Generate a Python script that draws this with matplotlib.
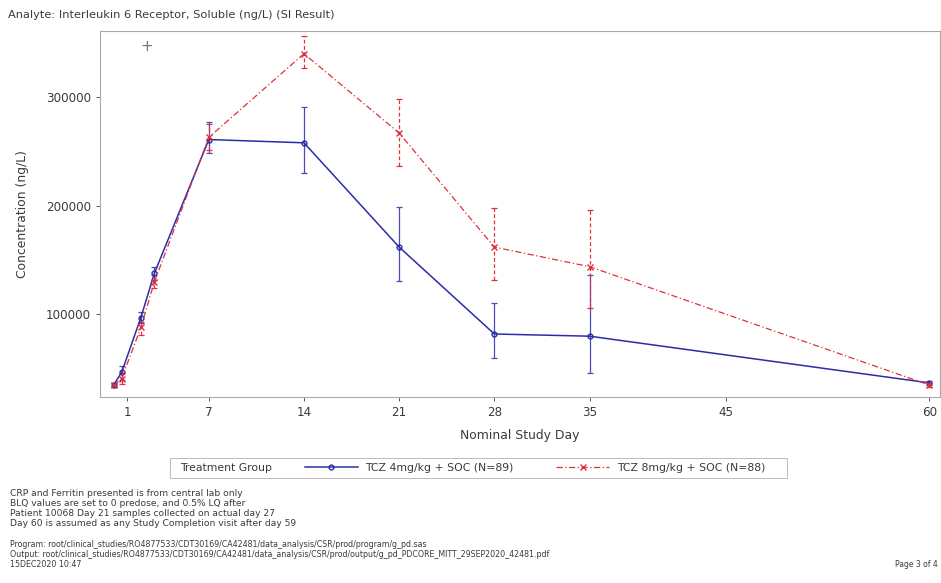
import numpy as np
import matplotlib
matplotlib.use("Agg")
import matplotlib.pyplot as plt
from matplotlib.lines import Line2D
from matplotlib.patches import Rectangle

# ---- data ---------------------------------------------------------
days = [0, 0.6, 2, 3, 7, 14, 21, 28, 35, 60]

tcz4_mean = [35000, 47000, 97000, 138000, 261000, 258000, 162000, 82000, 80000, 37000]
tcz4_low = [33000, 40000, 92000, 132000, 249000, 230000, 131000, 60000, 46000, 35000]
tcz4_high = [37000, 53000, 102000, 144000, 277000, 291000, 199000, 111000, 136000, 39000]

tcz8_mean = [35000, 41000, 88000, 130000, 263000, 340000, 267000, 162000, 144000, 35000]
tcz8_low = [33000, 36000, 81000, 124000, 251000, 327000, 237000, 132000, 106000, 33000]
tcz8_high = [37000, 46000, 93000, 136000, 275000, 356000, 298000, 198000, 196000, 37000]

xticks = [1, 7, 14, 21, 28, 35, 45, 60]
yticks = [100000, 200000, 300000]

title = "Analyte: Interleukin 6 Receptor, Soluble (ng/L) (SI Result)"
labels = ["TCZ 4mg/kg + SOC (N=89)", "TCZ 8mg/kg + SOC (N=88)"]
footnotes = ["CRP and Ferritin presented is from central lab only",
             "BLQ values are set to 0 predose, and 0.5% LQ after",
             "Patient 10068 Day 21 samples collected on actual day 27",
             "Day 60 is assumed as any Study Completion visit after day 59"]
program_lines = [
    "Program: root/clinical_studies/RO4877533/CDT30169/CA42481/data_analysis/CSR/prod/program/g_pd.sas",
    "Output: root/clinical_studies/RO4877533/CDT30169/CA42481/data_analysis/CSR/prod/output/g_pd_PDCORE_MITT_29SEP2020_42481.pdf",
    "15DEC2020 10:47"]

# -------------------------------------------------------------------
plt.rcParams['font.family'] = ['DejaVu Sans']
txt = '#3a3a3a'
blue = '#2c2ca8'
red = '#e0303a'
dashdot = (0, (5, 2, 1, 2))

fig = plt.figure(figsize=(9.41, 5.83), dpi=100)
ax = fig.add_axes([0.1063, 0.319, 0.893, 0.628])

def err(mean, low, high):
    m = np.array(mean)
    return [m - np.array(low), np.array(high) - m]

ax.errorbar(days, tcz4_mean, yerr=err(tcz4_mean, tcz4_low, tcz4_high),
            color=blue, lw=1.1, marker='o', ms=3.5, mfc='none', mec=blue,
            capsize=2, elinewidth=0.9, capthick=0.9, ecolor='#4a4ab8')
e8 = ax.errorbar(days, tcz8_mean, yerr=err(tcz8_mean, tcz8_low, tcz8_high),
                 color=red, lw=0.9, ls=dashdot, marker='x', ms=4,
                 capsize=2, elinewidth=0.9, capthick=0.9)
e8[2][0].set_linestyle((0, (3, 2)))

ax.set_xlim(-1, 60.8)
ax.set_ylim(24000, 361000)
ax.set_xticks(xticks)
ax.set_yticks(yticks)
ax.tick_params(labelsize=8.6, colors=txt, length=3, width=0.6)
for s in ax.spines.values():
    s.set_color('#aaaaaa')
    s.set_linewidth(0.8)
ax.set_xlabel("Nominal Study Day", fontsize=8.9, color=txt, labelpad=7)
ax.set_ylabel("Concentration (ng/L)", fontsize=8.9, color=txt, labelpad=12)

# cursor cross left in the screenshot
fig.text(0.156, 0.921, "+", fontsize=11, color='#777777', ha='center', va='center')

fig.text(0.008, 0.975, title, fontsize=8.2, color=txt, ha='left', va='center')

# legend box: "Treatment Group" on the left, entries in one row
fig.patches.append(Rectangle((0.1807, 0.1801), 0.6557, 0.0343, transform=fig.transFigure,
                             fill=False, edgecolor='#bbbbbb', lw=0.7))
fig.text(0.191, 0.197, "Treatment Group", fontsize=7.8, color=txt, ha='left', va='center')
handles = [Line2D([], [], color=blue, lw=1.1, marker='o', ms=3.5, mfc='none'),
           Line2D([], [], color=red, lw=0.9, ls=dashdot, marker='x', ms=4)]
leg = fig.legend(handles, labels, ncol=2, loc='center left',
                 bbox_to_anchor=(0.324, 0.197), fontsize=7.8, frameon=False,
                 borderpad=0, borderaxespad=0, handlelength=4.9,
                 handletextpad=0.7, columnspacing=3.9)
for t in leg.get_texts():
    t.set_color(txt)

y0 = 0.153
for i, line in enumerate(footnotes):
    fig.text(0.011, y0 - i * 0.0168, line, fontsize=6.6, color=txt, ha='left', va='center')
y1 = 0.066
for i, line in enumerate(program_lines):
    fig.text(0.011, y1 - i * 0.0168, line, fontsize=5.65, color=txt, ha='left', va='center')
fig.text(0.997, 0.032, "Page 3 of 4", fontsize=5.5, color=txt, ha='right', va='center')

fig.savefig("out.png", dpi=100)
